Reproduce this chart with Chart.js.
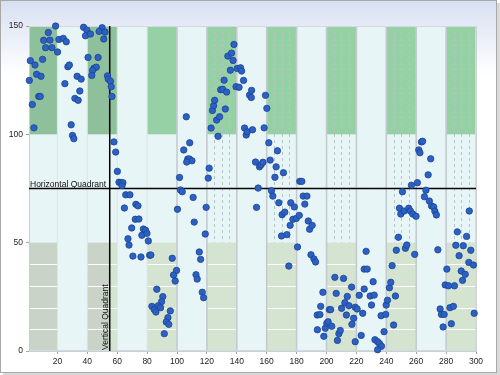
<!DOCTYPE html>
<html lang="en">
<head>
<meta charset="UTF-8">
<title>Quadrant Scatter</title>
<script src="https://cdn.jsdelivr.net/npm/chart.js"></script>
<style>
  body { margin: 0; background: #fff; }
  canvas { display: block; }
</style>
</head>
<body>
<canvas id="quadChart" width="500" height="375"></canvas>
<script>
// points, split by x range
const ptsA = [[18.8,150],[13.9,147],[10.8,143.4],[15,143.5],[12.1,140],[16.3,140],[20.1,138],[1.9,134],[10.1,134.6],[5,132],
  [6.1,127.7],[9,126.8],[1.2,124.9],[7.5,117.5],[8.5,117.5],[3.2,113.8],[4.3,103],[21,143.8],[23.9,144.3],[25.9,142.7],
  [27,131.2],[28,132],[25,123.4],[33.2,126.8],[35.9,125.5],[35,120],[31.7,116.6],[33.9,115.7],[29.2,104.4],[30.1,99.5],
  [31,98],[37.5,149.4],[39.7,148.1],[38.8,145.5],[42.1,146.3],[40.5,135.5],[47.2,135.5],[49.9,149.2],[47.9,147.5],[51.9,147.2],
  [51,144],[44.5,130.5],[46,131],[43.5,129.5],[43,127.2],[53.5,127],[54,125.5],[55.5,124.5],[56,122],[56.5,117.5],
  [57.8,96.5],[59,91.8]];
const ptsB = [[60.1,82.9],[61.2,77.9],[62.5,77.7],[63.8,77.7],[63.2,76.3],[65.7,72.1],[68.5,72.1],[72.5,67.7],[73.9,67],[64.8,66],
  [72.1,60.8],[74.5,60.9],[69.7,56.8],[67.2,51.8],[67.9,48.9],[70.5,43.8],[75.9,43.4],[77.5,56.3],[79,55.7],[76.5,53.4],
  [79.9,54.3],[80.8,50.8],[81.7,44.2],[82.5,44.3],[86.5,28.5],[90.5,25.1],[89.7,22.8],[83.2,20.6],[84.8,19.1],[85.9,18],
  [87.5,20.9],[89,20],[95.5,18.5],[93.9,15.4],[92.8,13.4],[94.5,12.3],[91.5,8],[96.8,42.8],[99.7,37.2],[97.7,35.1],
  [98.8,32.3],[100.3,65.4],[101.7,80.1],[102.3,74.3],[103.5,73.5],[104.5,92.8],[106.2,108.1],[108.5,96.1],[107.2,88.6],[108.3,88.6],
  [110,87.8],[106.5,87.2],[110.8,70.9],[111.5,59.5],[114.9,45.7],[115.8,42.3],[112.7,35.2],[113.5,33.2],[116.9,27.1],[117.8,24.6],
  [118.9,54],[119.5,66.3]];
const ptsC = [[120.9,79.8],[121.5,84.4],[122.8,102.9],[123.7,111],[124.5,113.2],[125.2,115.7],[126.5,106.6],[128.5,108.1],[127.5,99.1],[129.2,120.6],
  [130.5,120.8],[131.5,125],[132.3,111.7],[133.2,119.5],[134,136.1],[135.7,129.6],[136.5,137.5],[137.5,134.1],[138.1,141.5],[139.5,122],
  [140.3,130.4],[141.5,121.7],[142.5,130.7],[143.2,129.2],[144.5,124.9],[145.2,102.9],[146.3,99.7],[147,101.2],[148.5,118.1],[149.7,117],
  [149.9,120.3],[150.5,102.1],[152.5,87.2],[153.2,66.3],[154.3,75.2],[155.2,85],[156.3,86],[157.5,87.1],[158.3,103],[159.2,118],
  [160.1,112],[161.4,96.1],[162.3,88.1],[163.2,74],[164.1,71.5],[165.5,80.2],[166.3,85],[167.2,92.4],[168.1,68.4],[169.9,53.1],
  [170.3,62.9],[171.2,82.3],[172.1,64.1],[173.5,53.7],[174.8,39.2],[175.7,58],[176.1,68.4],[177.6,60.8],[178.5,66.5],[179.8,61.2]];
const ptsD = [[180.6,48],[181.8,62.6],[182.1,78.3],[183.5,78.3],[184.4,71.5],[185.5,67.8],[186.9,71.5],[187.8,60],[188.7,56.2],[190.4,58],
  [189.6,44.4],[191.6,42.5],[192.7,41.1],[193.8,16.6],[193.9,9.8],[195.6,16.8],[196.1,20.6],[197.6,27.1],[198.2,6.8],[199.2,10.5],
  [200.2,12.8],[201.1,13.5],[201.9,19.1],[202.8,19.1],[203.5,11.4],[205.6,34],[206.5,26.6],[207.3,4.9],[208.3,8],[209.2,9.5],
  [210.1,19.7],[211.4,33.5],[212.3,22.3],[213.3,16.6],[213.9,25.2],[215,20.9],[216.8,29.5],[217,12.3],[218.2,15.1],[219.2,20.2],
  [219.2,4.3],[220.5,19.4],[221.9,25.7],[223.2,7.2],[224.2,17.4],[225.2,28.6],[225.2,37.8],[226.5,46],[227.2,37.8],[229.2,25.4],
  [230.1,21.2],[231.2,32],[231.9,25.8],[232.4,5.2],[234.2,4.3],[235.5,3.4],[236.8,2.2],[234.2,0.6],[236.5,16.3],[238.5,8.9],
  [239.6,16.9],[239.9,21.2]];
const ptsE = [[240.8,23.4],[242.1,29.2],[243,31.7],[243.9,39.4],[244.9,12],[246.1,25.4],[246.7,46.5],[248.1,52.5],[248.8,65.9],[249.7,63.2],
  [250.8,73.5],[251.9,64.6],[252.8,47.4],[253.7,48.9],[255,65.9],[256.1,64.6],[256.8,76.5],[257.7,63.2],[259,44.6],[259.9,62.2],
  [260.8,77.7],[261.7,92.8],[262.5,91.5],[263.5,96.5],[264.3,96.8],[265.5,71.2],[266.5,74.2],[268,81.3],[268.8,69.2],[269.7,88.7],
  [270.3,66.9],[271.7,66.5],[272.5,64.5],[273.5,62.8],[274.5,46.7],[276,19.4],[276.9,16.9],[278,11.1],[278.7,16.9],[279.4,30.5],
  [280.5,37.8],[281.6,30.1],[282.6,20],[283.5,12.6],[284.9,20.6],[285.6,30.1],[286.5,48.8],[287.5,55],[288.7,44],[290.1,36.9],
  [291,32.6],[291.5,48.6],[292.8,35.4],[293.7,52.9],[295.2,40.9],[295.5,64.6],[296.5,46.5],[298.3,39.7],[298.8,17.4]];

const xTicks = [20, 40, 60, 80, 100, 120, 140, 160, 180, 200, 220, 240, 260, 280, 300];
const yTicks = [0, 50, 100, 150];
const bandCols = [[1, 20], [40, 60], [80, 100], [120, 140], [160, 180], [200, 220], [240, 260], [280, 300]];
const dashedCols = [[120, 140], [160, 180], [200, 220], [240, 260], [280, 300]];
const bottomGrid = [10, 20, 30, 40];
const quadrantX = 55;
const quadrantY = 75;

const labelFont = '8.5px "Liberation Sans Narrow", "Liberation Sans", Arial, sans-serif';

const backdrop = {
  id: 'backdrop',
  beforeDraw(chart) {
    const { ctx, width, height, chartArea: a, scales: { x, y } } = chart;
    ctx.save();
    // outer frame with a soft shadow
    ctx.fillStyle = '#d9d9d9';
    ctx.fillRect(3, 3, width - 3, height - 3);
    const g = ctx.createLinearGradient(0, 0, 0, 75);
    g.addColorStop(0, '#d7dff1');
    g.addColorStop(1, '#ffffff');
    ctx.fillStyle = g;
    ctx.fillRect(0.5, 0.5, width - 4, height - 3);
    ctx.strokeStyle = '#a8a8a8';
    ctx.lineWidth = 1;
    ctx.strokeRect(0.5, 0.5, width - 4, height - 3);

    ctx.fillStyle = '#e8f5f7';
    ctx.fillRect(a.left, a.top, a.width, a.height);

    const rect = (x0, x1, y0, y1, c) => {
      const l = x.getPixelForValue(Math.max(x0, x.min)), r = x.getPixelForValue(x1);
      const t = y.getPixelForValue(y1), b = y.getPixelForValue(y0);
      ctx.fillStyle = c;
      ctx.fillRect(l, t, r - l, b - t);
    };

    // upper green blocks
    bandCols.forEach(([x0, x1]) => rect(x0, x1, 100, 150, x1 <= 60 ? '#8fc09c' : '#96d1a5'));

    // dashed minor lines
    ctx.strokeStyle = '#b7c4c7';
    ctx.setLineDash([3, 3]);
    dashedCols.forEach(([x0]) => [5, 10, 15].forEach(d => {
      const xx = Math.round(x.getPixelForValue(x0 + d)) + 0.5;
      ctx.beginPath();
      ctx.moveTo(xx, y.getPixelForValue(150));
      ctx.lineTo(xx, y.getPixelForValue(50));
      ctx.stroke();
    }));
    ctx.setLineDash([]);

    // lower blocks
    bandCols.forEach(([x0, x1]) => {
      if (x1 <= 60) {
        rect(x0, Math.min(x1, quadrantX), 0, 50, '#c9d3c8');
        if (x1 > quadrantX) rect(quadrantX, x1, 0, 50, '#d5e3d1');
      } else {
        rect(x0, x1, 0, 50, '#d5e3d1');
      }
    });

    // white grid on lower blocks
    ctx.strokeStyle = '#ffffff';
    bottomGrid.forEach(v => {
      const yy = Math.round(y.getPixelForValue(v)) + 0.5;
      bandCols.forEach(([x0, x1]) => {
        ctx.beginPath();
        ctx.moveTo(x.getPixelForValue(Math.max(x0, x.min)), yy);
        ctx.lineTo(x.getPixelForValue(x1), yy);
        ctx.stroke();
      });
    });

    // column separators
    xTicks.forEach(v => {
      const xx = x.getPixelForValue(v);
      ctx.strokeStyle = v >= 100 ? '#c3cbcf' : '#dae5e8';
      ctx.lineWidth = v >= 100 ? 1.6 : 1;
      ctx.beginPath();
      ctx.moveTo(xx, a.top);
      ctx.lineTo(xx, a.bottom);
      ctx.stroke();
    });
    ctx.strokeStyle = '#d3dadd';
    ctx.lineWidth = 1;
    ctx.strokeRect(a.left + 0.5, a.top + 0.5, a.width - 1, a.height - 1);
    ctx.restore();
  },
  beforeDatasetsDraw(chart) {
    const { ctx, chartArea: a, scales: { x, y } } = chart;
    const qx = x.getPixelForValue(quadrantX);
    const qy = y.getPixelForValue(quadrantY);
    ctx.save();
    ctx.strokeStyle = '#000';
    ctx.lineWidth = 1.5;
    ctx.beginPath();
    ctx.moveTo(a.left, qy);
    ctx.lineTo(a.right, qy);
    ctx.moveTo(qx, a.top);
    ctx.lineTo(qx, a.bottom);
    ctx.stroke();

    ctx.fillStyle = '#111';
    ctx.font = labelFont;
    ctx.textBaseline = 'alphabetic';
    ctx.textAlign = 'left';
    ctx.fillText('Horizontal Quadrant', a.left + 1, qy - 2);
    ctx.translate(qx - 2, a.bottom - 1);
    ctx.rotate(-Math.PI / 2);
    ctx.fillText('Vertical Quadrant', 0, 0);
    ctx.restore();
  }
};

const allPts = [...ptsA, ...ptsB, ...ptsC, ...ptsD, ...ptsE];

new Chart(document.getElementById('quadChart'), {
  type: 'scatter',
  data: {
    datasets: [{
      data: allPts.map(([px, py]) => ({ x: px, y: py })),
      pointRadius: 3.2,
      pointBorderWidth: 0.8,
      backgroundColor: '#2c60c4',
      borderColor: '#1a4592',
      clip: false
    }]
  },
  options: {
    responsive: false,
    animation: false,
    layout: { padding: { top: 26, right: 24, left: 0, bottom: 0 } },
    plugins: { legend: { display: false }, tooltip: { enabled: false } },
    scales: {
      x: {
        type: 'linear',
        min: 1,
        max: 300,
        afterBuildTicks: s => { s.ticks = xTicks.map(v => ({ value: v })); },
        afterFit: s => { s.height = 24; },
        grid: { drawOnChartArea: false, tickLength: 3, color: '#9aa4a8' },
        border: { color: '#c8d0d4' },
        ticks: { autoSkip: false, maxRotation: 0, padding: 3, color: '#222', font: { family: '"Liberation Sans Narrow", "Liberation Sans", Arial', size: 8.5 } }
      },
      y: {
        min: 0,
        max: 150,
        afterBuildTicks: s => { s.ticks = yTicks.map(v => ({ value: v })); },
        afterFit: s => { s.width = 29; },
        grid: { drawOnChartArea: false, tickLength: 3, color: '#9aa4a8' },
        border: { color: '#c8d0d4' },
        ticks: { padding: 3, color: '#222', font: { family: '"Liberation Sans Narrow", "Liberation Sans", Arial', size: 8.5 } }
      }
    }
  },
  plugins: [backdrop]
});
</script>
</body>
</html>
